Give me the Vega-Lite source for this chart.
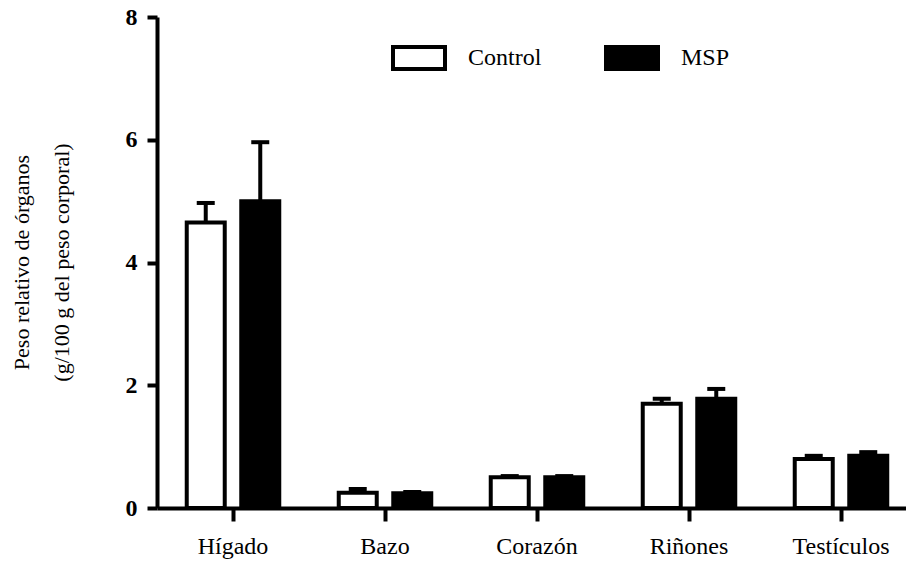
{
  "$schema": "https://vega.github.io/schema/vega-lite/v6.json",
  "width": 749,
  "height": 491,
  "autosize": "none",
  "padding": {"left": 157, "top": 17, "right": 0, "bottom": 55},
  "background": "white",
  "config": {"view": {"stroke": null}, "font": "Times New Roman, Liberation Serif, serif"},
  "data": {
    "values": [
      {"organ": "Hígado", "group": "Control", "value": 4.65, "upper": 4.97},
      {"organ": "Hígado", "group": "MSP", "value": 5.0, "upper": 5.96},
      {"organ": "Bazo", "group": "Control", "value": 0.25, "upper": 0.31},
      {"organ": "Bazo", "group": "MSP", "value": 0.24, "upper": 0.26},
      {"organ": "Corazón", "group": "Control", "value": 0.5, "upper": 0.52},
      {"organ": "Corazón", "group": "MSP", "value": 0.5, "upper": 0.52},
      {"organ": "Riñones", "group": "Control", "value": 1.7, "upper": 1.78},
      {"organ": "Riñones", "group": "MSP", "value": 1.78, "upper": 1.94},
      {"organ": "Testículos", "group": "Control", "value": 0.8, "upper": 0.85},
      {"organ": "Testículos", "group": "MSP", "value": 0.85, "upper": 0.91}
    ]
  },
  "encoding": {
    "x": {
      "field": "organ",
      "type": "nominal",
      "sort": ["Hígado", "Bazo", "Corazón", "Riñones", "Testículos"],
      "scale": {"range": [0, 760], "paddingInner": 0, "paddingOuter": 0},
      "axis": {
        "title": null,
        "labelAngle": 0,
        "domainWidth": 4,
        "domainColor": "black",
        "tickWidth": 4,
        "tickColor": "black",
        "tickSize": 13,
        "labelFontSize": 24,
        "labelColor": "black",
        "labelPadding": 13,
        "labelFont": "Times New Roman, Liberation Serif, serif"
      }
    },
    "xOffset": {
      "field": "group",
      "type": "nominal",
      "sort": ["Control", "MSP"],
      "scale": {"paddingInner": 0, "paddingOuter": 0.394}
    }
  },
  "layer": [
    {
      "mark": {"type": "bar", "width": 38, "stroke": "black", "strokeWidth": 4},
      "encoding": {
        "y": {
          "field": "value",
          "type": "quantitative",
          "scale": {"domain": [0, 8]},
          "axis": {
            "values": [0, 2, 4, 6, 8],
            "format": "d",
            "grid": false,
            "domainWidth": 4,
            "domainColor": "black",
            "tickWidth": 4,
            "tickColor": "black",
            "tickSize": 10,
            "labelFontSize": 24,
            "labelFontWeight": "bold",
            "labelColor": "black",
            "labelPadding": 10,
            "labelFont": "Times New Roman, Liberation Serif, serif",
            "title": ["Peso relativo de órganos", "(g/100 g del peso corporal)"],
            "titleFont": "Times New Roman, Liberation Serif, serif",
            "titleFontSize": 22,
            "titleFontWeight": "normal",
            "titleColor": "black",
            "titleLineHeight": 40,
            "titleAngle": -90,
            "titleAlign": "center",
            "titleBaseline": "top",
            "titleX": -146,
            "titleY": 245
          }
        },
        "fill": {
          "field": "group",
          "type": "nominal",
          "scale": {"domain": ["Control", "MSP"], "range": ["white", "black"]},
          "legend": {
            "orient": "none",
            "legendX": 234,
            "legendY": 13,
            "direction": "horizontal",
            "title": null,
            "symbolType": "M-1,-0.42H1V0.42H-1Z",
            "symbolSize": 2704,
            "symbolStrokeWidth": 4,
            "symbolStrokeColor": "black",
            "labelFontSize": 24,
            "labelFont": "Times New Roman, Liberation Serif, serif",
            "labelColor": "black",
            "labelOffset": 21,
            "columnPadding": 56,
            "padding": 0,
            "encode": {
              "symbols": {"update": {"stroke": {"value": "black"}, "strokeWidth": {"value": 4}}}
            }
          }
        }
      }
    },
    {
      "mark": {"type": "rule", "strokeWidth": 4, "color": "black", "opacity": 1},
      "encoding": {
        "y": {"field": "value", "type": "quantitative"},
        "y2": {"field": "upper"}
      }
    },
    {
      "mark": {"type": "tick", "thickness": 4, "size": 18, "color": "black", "opacity": 1},
      "encoding": {
        "y": {"field": "upper", "type": "quantitative"}
      }
    }
  ]
}
